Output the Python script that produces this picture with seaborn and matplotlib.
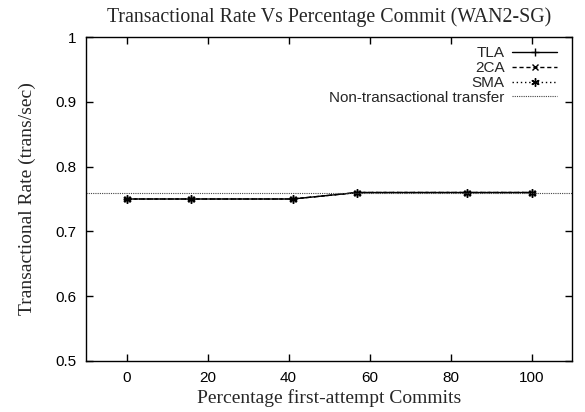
import matplotlib
matplotlib.use("Agg")
import matplotlib.pyplot as plt
import seaborn as sns
import pandas as pd

# Data
commits_pct = [0, 16, 41, 57, 84, 100]
tla_rate = [0.75, 0.75, 0.75, 0.76, 0.76, 0.76]
twoca_rate = [0.75, 0.75, 0.75, 0.76, 0.76, 0.76]
sma_rate = [0.75, 0.75, 0.75, 0.76, 0.76, 0.76]
non_transactional_rate = 0.76
x_ticks = [0, 20, 40, 60, 80, 100]
y_ticks = [0.5, 0.6, 0.7, 0.8, 0.9, 1.0]
y_tick_labels = ["0.5", "0.6", "0.7", "0.8", "0.9", "1"]

sns.set_style("ticks")
plt.rcParams['font.family'] = ['Liberation Sans', 'DejaVu Sans']

fig = plt.figure(figsize=(5.85, 4.12), dpi=100)
ax = fig.add_axes([86/585, 1 - 361/412, (572-86)/585, (361-37)/412])

df = pd.DataFrame({"x": commits_pct, "TLA": tla_rate, "2CA": twoca_rate, "SMA": sma_rate})

common = dict(ax=ax, color="black", linewidth=1.0, markeredgecolor="black",
              markerfacecolor="black", markeredgewidth=1.0)
sns.lineplot(data=df, x="x", y="TLA", linestyle="-", marker="+", markersize=6,
             label="TLA", **common)
sns.lineplot(data=df, x="x", y="2CA", linestyle=(0, (3, 2)), marker="x", markersize=4.5,
             label="2CA", **common)
sns.lineplot(data=df, x="x", y="SMA", linestyle=(0, (1, 2)), marker=(6, 2, 0), markersize=6,
             label="SMA", **common)
ax.axhline(non_transactional_rate, color="#444444", linewidth=0.8, linestyle=(0, (1, 1)),
           label="Non-transactional transfer")

ax.set_xlim(-10, 110)
ax.set_ylim(0.5, 1.0)
ax.set_xticks(x_ticks)
ax.set_yticks(y_ticks)
ax.set_yticklabels(y_tick_labels)
ax.tick_params(direction="in", top=True, right=True, length=5, width=1, labelsize=11, pad=7,
               colors="black")
for s in ax.spines.values():
    s.set_visible(True)
    s.set_linewidth(1.0)
    s.set_color("black")

ax.set_xlabel("Percentage first-attempt Commits", family="Liberation Serif", fontsize=14, labelpad=3)
ax.set_ylabel("Transactional Rate (trans/sec)", family="Liberation Serif", fontsize=14, labelpad=14)
ax.set_title("Transactional Rate Vs Percentage Commit (WAN2-SG)", family="Liberation Serif",
             fontsize=14.3, pad=11)

leg = ax.legend(loc="upper right", bbox_to_anchor=(1.0, 1.018), markerfirst=False,
                frameon=False, fontsize=11, handlelength=2.9, handletextpad=0.5,
                labelspacing=0.05, borderaxespad=0.6)
for col in leg._legend_box.get_children()[1].get_children():
    col.align = "right"

fig.savefig("out.png", dpi=100)
